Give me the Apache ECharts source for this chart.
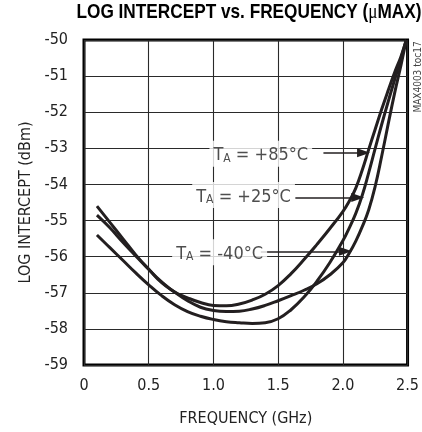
<!DOCTYPE html>
<html>
<head>
<meta charset="utf-8">
<script src="https://cdn.jsdelivr.net/npm/echarts@6/dist/echarts.min.js"></script>
<style>
html,body{margin:0;padding:0;background:#fff;}
#chart{width:422px;height:432px;}
</style>
</head>
<body>
<div id="chart"></div>
<script>
// Frequency points (GHz)
const freq = [0.1,0.2,0.3,0.4,0.5,0.6,0.7,0.8,0.9,1.0,1.1,1.2,1.3,1.4,1.5,1.6,1.7,1.8,1.9,2.0,2.05,2.1,2.15,2.2,2.25,2.3,2.35,2.4,2.45,2.49];
// Log intercept (dBm) per temperature
const interceptP85 = [-54.6,-55.05,-55.5,-55.95,-56.35,-56.7,-56.98,-57.14,-57.27,-57.35,-57.36,-57.31,-57.2,-57.04,-56.8,-56.47,-56.08,-55.66,-55.22,-54.75,-54.46,-54.1,-53.6,-53.03,-52.47,-51.92,-51.4,-50.9,-50.45,-50.0];
const interceptP25 = [-55.4,-55.75,-56.1,-56.45,-56.78,-57.08,-57.33,-57.52,-57.65,-57.74,-57.8,-57.83,-57.85,-57.83,-57.72,-57.47,-57.12,-56.68,-56.16,-55.56,-55.2,-54.8,-54.3,-53.67,-53.0,-52.34,-51.71,-51.1,-50.5,-50.0];
const interceptM40 = [-54.85,-55.2,-55.6,-55.98,-56.35,-56.72,-56.98,-57.22,-57.4,-57.49,-57.52,-57.51,-57.45,-57.35,-57.22,-57.08,-56.93,-56.75,-56.5,-56.17,-55.9,-55.57,-55.17,-54.7,-54.05,-53.22,-52.33,-51.47,-50.68,-50.0];
// Annotation labels: [freq, dBm, text]
const labelItems = [[1.366,-53.15,'+85°C'],[1.233,-54.29,'+25°C'],[1.048,-55.88,'-40°C']];
// Arrows: [fromFreq, toFreq, dBm]
const arrowItems = [[1.85,2.16,-53.12],[1.633,2.115,-54.36],[1.366,2.02,-55.85]];
// Axis ticks
const xTicks = [0,0.5,1.0,1.5,2.0,2.5];
const yTicks = [-59,-58,-57,-56,-55,-54,-53,-52,-51,-50];

const FONT = "'Liberation Sans Narrow','DejaVu Sans Condensed','Liberation Sans',sans-serif";
const INK = '#231f20';
const chart = echarts.init(document.getElementById('chart'));

function curve(vals){
  return {
    type:'line', smooth:0.45, symbol:'none', silent:true,
    lineStyle:{color:INK,width:3},
    data: freq.map((f,i)=>[f, vals[i]])
  };
}

const option = {
  animation:false,
  backgroundColor:'#fff',
  grid:{left:84,right:10,top:40,bottom:63,show:true,borderColor:'#000',borderWidth:3,backgroundColor:'transparent'},
  xAxis:{
    type:'value', min:xTicks[0], max:xTicks[xTicks.length-1], interval:0.5,
    name:'FREQUENCY (GHz)', nameLocation:'middle', nameGap:46,
    nameTextStyle:{fontFamily:FONT,fontSize:16,color:'#222'},
    axisLine:{show:false}, axisTick:{show:false},
    axisLabel:{fontFamily:FONT,fontSize:16,color:'#222',margin:13,
      formatter:v=> v===0 ? '0' : v.toFixed(1)},
    splitLine:{show:true,lineStyle:{color:'#2a2a2a',width:1.1}}
  },
  yAxis:{
    type:'value', min:yTicks[0], max:yTicks[yTicks.length-1], interval:1,
    name:'LOG INTERCEPT (dBm)', nameLocation:'middle', nameGap:50,
    nameTextStyle:{fontFamily:FONT,fontSize:16,color:'#222'},
    axisLine:{show:false}, axisTick:{show:false},
    axisLabel:{fontFamily:FONT,fontSize:16,color:'#222',margin:16},
    splitLine:{show:true,lineStyle:{color:'#2a2a2a',width:1.1}}
  },
  series:[
    curve(interceptP85),
    curve(interceptP25),
    curve(interceptM40),
    {
      type:'scatter', symbol:'circle', symbolSize:1, silent:true, z:5,
      itemStyle:{color:'rgba(0,0,0,0)'},
      data: labelItems.map(d=>({value:[d[0],d[1]], name:d[2]})),
      label:{
        show:true, position:'inside', backgroundColor:'#fff', padding:[2,4,2,4],
        formatter:p=>'{t|T}{s|A}{t| = '+p.name+'}',
        rich:{
          t:{fontFamily:FONT,fontSize:18,color:'#222',lineHeight:22,verticalAlign:'bottom'},
          s:{fontFamily:FONT,fontSize:12,color:'#222',lineHeight:16,verticalAlign:'bottom'}
        }
      },
      markLine:{
        silent:true, symbol:['none','triangle'], symbolSize:[9,13],
        label:{show:false},
        lineStyle:{color:INK,width:1.6,type:'solid'},
        itemStyle:{color:INK},
        data: arrowItems.map(a=>[{coord:[a[0],a[2]]},{coord:[a[1],a[2]]}])
      }
    }
  ],
  graphic:[
    {
      type:'text', x:249, y:12, scaleX:0.82,
      style:{
        text:'{b|LOG INTERCEPT vs. FREQUENCY (}{m|μ}{b|MAX)}',
        align:'center', verticalAlign:'middle',
        rich:{
          b:{fontFamily:"'Liberation Sans',sans-serif",fontWeight:'bold',fontSize:21,fill:'#000'},
          m:{fontFamily:"'Liberation Serif',serif",fontWeight:'normal',fontSize:21,fill:'#000'}
        }
      }
    },
    {
      type:'text', x:418, y:77, rotation:Math.PI/2,
      style:{text:'MAX4003 toc17',fontFamily:FONT,fontSize:10,fill:'#444',align:'center',verticalAlign:'middle'}
    }
  ]
};
chart.setOption(option);
</script>
</body>
</html>
